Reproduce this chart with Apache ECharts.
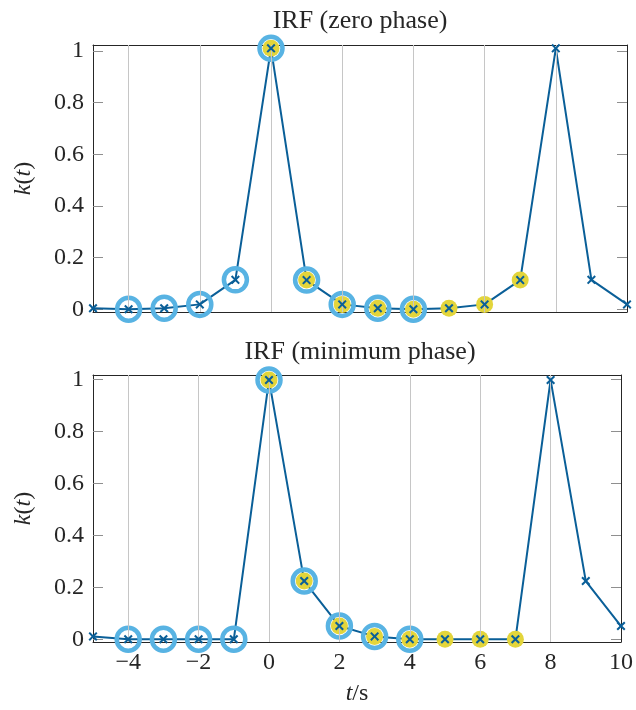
<!DOCTYPE html>
<html>
<head>
<meta charset="utf-8">
<script src="https://cdn.jsdelivr.net/npm/echarts@6/dist/echarts.min.js"></script>
<style>html,body{margin:0;padding:0;background:#fff}#c{width:636px;height:710px}</style>
</head>
<body>
<div id="c"></div>
<script>
// ---- data ----
const tValues = [-5, -4, -3, -2, -1, 0, 1, 2, 3, 4, 5, 6, 7, 8, 9, 10];
const kZeroPhase = [0.004, 0, 0.004, 0.019, 0.114, 1.01, 0.113, 0.019, 0.004, 0, 0.004, 0.019, 0.113, 1.01, 0.114, 0.019];
const kMinPhase = [0.011, 0, 0, 0, 0, 0.998, 0.224, 0.051, 0.011, 0, 0, 0, 0, 0.998, 0.224, 0.051];
const ringT = [-4, -3, -2, -1, 0, 1, 2, 3, 4];
const dotT = [0, 1, 2, 3, 4, 5, 6, 7];
const xTicks = [-4, -2, 0, 2, 4, 6, 8, 10];
const gridX = [-4, -2, 0, 2, 4, 6, 8];
const yTicks = [0, 0.2, 0.4, 0.6, 0.8, 1];
const titles = ['IRF (zero phase)', 'IRF (minimum phase)'];

const BLUE = '#0a5f98', LIGHT = '#58b3e3', YELLOW = '#e3d53b', TXT = '#262626', FRAME = '#262626';
const FONT = '"Liberation Serif", "DejaVu Serif", serif';
const XPATH = 'path://M0,1.6L1.6,0L5,3.4L8.4,0L10,1.6L6.6,5L10,8.4L8.4,10L5,6.6L1.6,10L0,8.4L3.4,5Z';

const pairs = (arr, sel) => tValues.map((t, i) => [t, arr[i]]).filter(p => !sel || sel.includes(p[0]));
const fmtNum = v => (v < 0 ? '\u2212' + (-v) : String(v));

const tops = [45, 375];
const grids = [], xAxes = [], yAxes = [], series = [];
const dataSets = [kZeroPhase, kMinPhase];
const yMin = [-0.0105, -0.0105], yMax = [1.023, 1.017];

for (let g = 0; g < 2; g++) {
  grids.push({left: 93, top: tops[g], width: 534, height: 267});
  const bottom = g === 1;
  xAxes.push({
    type: 'value', gridIndex: g, min: -5, max: 10, position: 'bottom',
    axisLine: {show: true, onZero: false, lineStyle: {color: FRAME, width: 1}},
    axisTick: {show: false},
    splitLine: {show: false},
    axisLabel: {show: bottom, customValues: xTicks, formatter: fmtNum, color: TXT, fontFamily: FONT, fontSize: 24, margin: 9},
    name: bottom ? '{i|t}/s' : '', nameLocation: 'middle', nameGap: 40,
    nameTextStyle: {color: TXT, fontFamily: FONT, fontSize: 24, rich: {i: {fontStyle: 'italic', fontFamily: FONT, fontSize: 24, color: TXT}}}
  });
  xAxes.push({
    type: 'value', gridIndex: g, min: -5, max: 10, position: 'top',
    axisLine: {show: true, onZero: false, lineStyle: {color: FRAME, width: 1}},
    axisTick: {show: false}, axisLabel: {show: false}, splitLine: {show: false}
  });
  yAxes.push({
    type: 'value', gridIndex: g, min: yMin[g], max: yMax[g], position: 'left',
    axisLine: {show: true, onZero: false, lineStyle: {color: FRAME, width: 1}},
    axisTick: {show: true, inside: true, length: 10, customValues: yTicks, lineStyle: {color: '#8f8f8f'}},
    axisLabel: {show: true, customValues: yTicks, formatter: v => String(v), color: TXT, fontFamily: FONT, fontSize: 24, margin: 9},
    splitLine: {show: false},
    name: '{i|k}({i|t})', nameLocation: 'middle', nameGap: 57, nameRotate: 90,
    nameTextStyle: {color: TXT, fontFamily: FONT, fontSize: 24, rich: {i: {fontStyle: 'italic', fontFamily: FONT, fontSize: 24, color: TXT}}}
  });
  yAxes.push({
    type: 'value', gridIndex: g, min: yMin[g], max: yMax[g], position: 'right',
    axisLine: {show: true, onZero: false, lineStyle: {color: FRAME, width: 1}},
    axisTick: {show: true, inside: true, length: 10, customValues: yTicks, lineStyle: {color: '#8f8f8f'}},
    axisLabel: {show: false}, splitLine: {show: false}
  });
  const xi = 2 * g, yi = 2 * g;
  const data = dataSets[g];
  series.push({
    type: 'scatter', xAxisIndex: xi, yAxisIndex: yi, data: [], z: 1, silent: true,
    markLine: {silent: true, symbol: 'none', label: {show: false}, animation: false,
      lineStyle: {color: '#c6c6c6', width: 1, type: 'solid'},
      data: gridX.map(x => ({xAxis: x}))}
  });
  series.push({
    type: 'line', xAxisIndex: xi, yAxisIndex: yi, data: pairs(data), showSymbol: false, symbol: 'none',
    lineStyle: {color: BLUE, width: 2}, z: 2, silent: true, clip: false
  });
  series.push({
    type: 'scatter', xAxisIndex: xi, yAxisIndex: yi, data: pairs(data, ringT), symbol: 'circle', symbolSize: 23,
    itemStyle: {color: 'rgba(255,255,255,0)', borderColor: LIGHT, borderWidth: 4.5, opacity: 1}, z: 3, silent: true, clip: false
  });
  series.push({
    type: 'scatter', xAxisIndex: xi, yAxisIndex: yi, data: pairs(data, dotT), symbol: 'circle', symbolSize: 17,
    itemStyle: {color: YELLOW, opacity: 1}, z: 4, silent: true, clip: false
  });
  series.push({
    type: 'scatter', xAxisIndex: xi, yAxisIndex: yi, data: pairs(data), symbol: XPATH, symbolSize: 9,
    itemStyle: {color: BLUE, opacity: 1}, z: 5, silent: true, clip: false
  });
}

const chart = echarts.init(document.getElementById('c'), null, {renderer: 'canvas'});
chart.setOption({
  animation: false,
  backgroundColor: '#ffffff',
  grid: grids, xAxis: xAxes, yAxis: yAxes, series: series,
  graphic: titles.map((txt, g) => ({
    type: 'text', x: 360, y: g === 0 ? 21 : 352, silent: true,
    style: {text: txt, fill: TXT, font: '26px ' + FONT, textAlign: 'center', textVerticalAlign: 'middle'}
  }))
});
</script>
</body>
</html>
